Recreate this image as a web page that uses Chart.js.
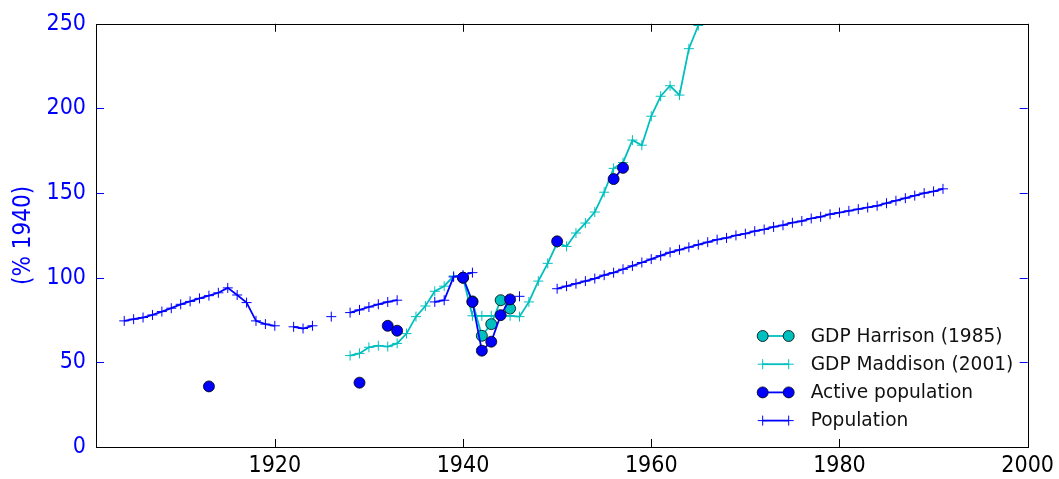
<!DOCTYPE html>
<html>
<head>
<meta charset="utf-8">
<script src="https://cdn.jsdelivr.net/npm/chart.js@4"></script>
<style>
  body { margin: 0; background: #fff; }
  canvas { display: block; }
</style>
</head>
<body>
<canvas id="chart" width="1059" height="479"></canvas>
<script>
const xTicks = [1920, 1940, 1960, 1980, 2000];
const yTicks = [0, 50, 100, 150, 200, 250];

const harrisonYears = [1940, 1941, 1942, 1943, 1944, 1945];
const harrisonValues = [100, 86, 65.7, 72.6, 86.7, 81.8];

const maddisonYears = [1928, 1929, 1930, 1931, 1932, 1933, 1934, 1935, 1936, 1937, 1938, 1939, 1940,
  1941, 1942, 1943, 1944, 1945, 1946, 1947, 1948, 1949, 1950, 1951, 1952, 1953, 1954, 1955, 1956,
  1957, 1958, 1959, 1960, 1961, 1962, 1963, 1964, 1965];
const maddisonValues = [54, 55.3, 58.9, 59.9, 59.3, 61.2, 67, 77, 83.3, 92, 95, 101, 100,
  77.5, 77.5, 77.5, 77.5, 77.5, 77, 85.7, 98, 108.5, 120.5, 118.5, 126.4, 132.3, 138.8, 150.5, 164.6,
  168, 181.3, 178.3, 195.4, 207.2, 213.4, 207.9, 235.3, 249];

const activeYears = [1913, 1929, 1932, 1933, 1940, 1941, 1942, 1943, 1944, 1945, 1950, 1956, 1957];
const activeValues = [35.8, 38, 71.6, 68.7, 100, 85.7, 56.9, 62.2, 77.9, 87.2, 121.5, 158.3, 164.9];

const popYears = [1904, 1905, 1906, 1907, 1908, 1909, 1910, 1911, 1912, 1913, 1914, 1915, 1916,
  1917, 1918, 1919, 1920, 1922, 1923, 1924, 1926, 1928, 1929, 1930, 1931, 1932, 1933,
  1937, 1938, 1939, 1940, 1941, 1946,
  1950, 1951, 1952, 1953, 1954, 1955, 1956, 1957, 1958, 1959, 1960, 1961, 1962, 1963, 1964,
  1965, 1966, 1967, 1968, 1969, 1970, 1971, 1972, 1973, 1974, 1975, 1976, 1977, 1978, 1979,
  1980, 1981, 1982, 1983, 1984, 1985, 1986, 1987, 1988, 1989, 1990, 1991];
const popValues = [74.5, 75.5, 76.5, 78, 80, 82, 84.3, 86, 87.8, 89.4, 91.1, 94, 89.8,
  85.3, 74.5, 72.6, 71.6, 71, 70, 71.6, 77, 79.4, 81, 82.7, 84.3, 85.7, 86.7,
  85.7, 86.7, 100.5, 101.5, 103, 89,
  93.5, 95, 96.5, 98, 99.5, 101.5, 103, 105, 107, 109, 111, 113, 115, 116.5, 118,
  119.5, 121, 122.5, 123.5, 125, 126, 127.5, 128.5, 130, 131, 132.5, 133.5, 135, 136, 137.5,
  138.5, 139.5, 140.5, 141.5, 142.5, 144, 145.5, 147, 148.5, 150, 151, 152.5];

// a missing year breaks the line
function toPoints(years, values) {
  const pts = [];
  years.forEach((yr, i) => {
    if (i > 0 && yr - years[i - 1] > 1) pts.push({ x: years[i - 1] + 1, y: null });
    pts.push({ x: yr, y: values[i] });
  });
  return pts;
}

const CYAN = "#00bfbf";
const BLUE = "#0000ff";
const TICK_FONT = "'DejaVu Sans Condensed', 'DejaVu Sans', sans-serif";

const frameTicks = {
  id: "frameTicks",
  afterDatasetsDraw(chart) {
    const { ctx, chartArea: a, scales: { x, y } } = chart;
    const len = 8;
    ctx.save();
    ctx.lineWidth = 1;
    ctx.strokeStyle = "#000";
    ctx.beginPath();
    x.ticks.forEach(t => {
      const px = Math.round(x.getPixelForValue(t.value)) + 0.5;
      ctx.moveTo(px, a.bottom); ctx.lineTo(px, a.bottom - len);
      ctx.moveTo(px, a.top); ctx.lineTo(px, a.top + len);
    });
    ctx.stroke();
    ctx.strokeStyle = BLUE;
    ctx.beginPath();
    y.ticks.forEach(t => {
      const py = Math.round(y.getPixelForValue(t.value)) + 0.5;
      ctx.moveTo(a.left, py); ctx.lineTo(a.left + len, py);
      ctx.moveTo(a.right, py); ctx.lineTo(a.right - len, py);
    });
    ctx.stroke();
    ctx.strokeStyle = "#000";
    ctx.strokeRect(Math.round(a.left) + 0.5, Math.round(a.top) + 0.5,
      Math.round(a.right - a.left), Math.round(a.bottom - a.top));
    ctx.restore();
  },
  afterDraw(chart) {
    const { ctx, chartArea: a } = chart;
    const x0 = a.right - 265, x1 = x0 + 26, step = 28.2;
    let yy = a.bottom - 111;
    ctx.save();
    chart.data.datasets.forEach(ds => {
      ctx.strokeStyle = ds.borderColor;
      ctx.lineWidth = ds.borderWidth;
      ctx.beginPath();
      ctx.moveTo(x0, yy); ctx.lineTo(x1, yy);
      ctx.stroke();
      [x0, x1].forEach(px => {
        if (ds.pointStyle === "circle") {
          ctx.beginPath();
          ctx.arc(px, yy, ds.pointRadius, 0, Math.PI * 2);
          ctx.fillStyle = ds.pointBackgroundColor;
          ctx.fill();
          ctx.lineWidth = ds.pointBorderWidth;
          ctx.strokeStyle = ds.pointBorderColor;
          ctx.stroke();
        } else {
          const r = ds.pointRadius;
          ctx.lineWidth = ds.pointBorderWidth;
          ctx.strokeStyle = ds.pointBorderColor;
          ctx.beginPath();
          ctx.moveTo(px - r, yy); ctx.lineTo(px + r, yy);
          ctx.moveTo(px, yy - r); ctx.lineTo(px, yy + r);
          ctx.stroke();
        }
      });
      ctx.fillStyle = "#111";
      ctx.font = "18.6px 'DejaVu Sans', sans-serif";
      ctx.textAlign = "left";
      ctx.textBaseline = "middle";
      ctx.fillText(ds.label, x0 + 48, yy + 1);
      yy += step;
    });
    ctx.restore();
  }
};

new Chart(document.getElementById("chart").getContext("2d"), {
  type: "line",
  data: {
    datasets: [
      {
        label: "GDP Harrison (1985)",
        data: toPoints(harrisonYears, harrisonValues),
        borderColor: CYAN,
        borderWidth: 1.8,
        pointStyle: "circle",
        pointRadius: 5.5,
        pointBackgroundColor: CYAN,
        pointBorderColor: "#000",
        pointBorderWidth: 0.8,
        order: 3,
      },
      {
        label: "GDP Maddison (2001)",
        data: toPoints(maddisonYears, maddisonValues),
        borderColor: CYAN,
        borderWidth: 1.8,
        pointStyle: "cross",
        pointRadius: 5,
        pointBorderColor: CYAN,
        pointBorderWidth: 1,
        order: 2,
      },
      {
        label: "Active population",
        data: toPoints(activeYears, activeValues),
        borderColor: BLUE,
        borderWidth: 1.8,
        pointStyle: "circle",
        pointRadius: 5.5,
        pointBackgroundColor: BLUE,
        pointBorderColor: "#000",
        pointBorderWidth: 0.8,
        order: 1,
      },
      {
        label: "Population",
        data: toPoints(popYears, popValues),
        borderColor: BLUE,
        borderWidth: 1.8,
        pointStyle: "cross",
        pointRadius: 5,
        pointBorderColor: BLUE,
        pointBorderWidth: 1,
        order: 0,
      },
    ],
  },
  options: {
    responsive: false,
    animation: false,
    spanGaps: false,
    layout: { padding: { top: 21, right: 28, left: 0, bottom: 0 } },
    elements: { line: { tension: 0 } },
    plugins: {
      legend: { display: false },
      tooltip: { enabled: false },
    },
    scales: {
      x: {
        type: "linear",
        min: 1901,
        max: 2000,
        afterBuildTicks: s => { s.ticks = xTicks.map(v => ({ value: v })); },
        afterFit: s => { s.height = 32; },
        grid: { display: false, drawTicks: false },
        border: { display: false },
        ticks: {
          autoSkip: false,
          maxRotation: 0,
          padding: 5,
          color: "#000",
          font: { family: TICK_FONT, size: 23 },
          callback: v => String(v),
        },
      },
      y: {
        min: 0,
        max: 250,
        afterBuildTicks: s => { s.ticks = yTicks.map(v => ({ value: v })); },
        afterFit: s => { s.width = 96; },
        grid: { display: false, drawTicks: false },
        border: { display: false },
        ticks: {
          padding: 10,
          color: BLUE,
          font: { family: TICK_FONT, size: 23 },
        },
        title: {
          display: true,
          text: "(% 1940)",
          color: BLUE,
          font: { family: TICK_FONT, size: 24 },
          padding: { top: 9, bottom: 0 },
        },
      },
    },
  },
  plugins: [frameTicks],
});
</script>
</body>
</html>
